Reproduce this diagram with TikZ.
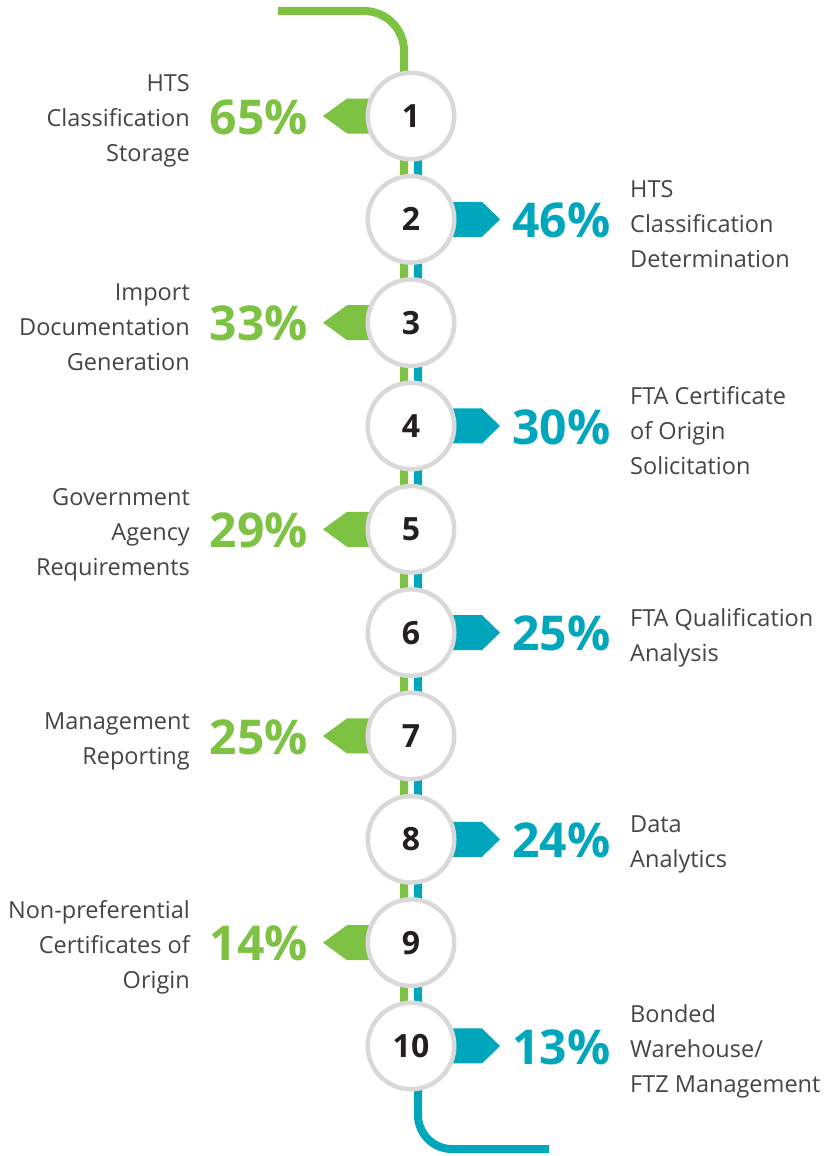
\documentclass[tikz,border=0pt]{standalone}
\usepackage{fontspec}
\setmainfont{Open Sans}
\usetikzlibrary{calc}
\definecolor{grn}{HTML}{7DC242}
\definecolor{tea}{HTML}{00A6BB}
\definecolor{rim}{HTML}{D9D9D9}
\definecolor{txt}{HTML}{454545}
\definecolor{num}{HTML}{231F20}
\begin{document}
\begin{tikzpicture}[x=1pt,y=-1pt,
  ring/.style={circle,draw=rim,line width=4.5pt,fill=white,minimum size=86.5pt,inner sep=0pt,
    font=\fontsize{32}{32}\selectfont\bfseries,text=num},
  lbll/.style={font=\fontsize{23.5}{35}\selectfont,text=txt,inner sep=0pt,align=right,anchor=east,yshift=-5pt},
  lblr/.style={font=\fontsize{23.5}{35}\selectfont,text=txt,inner sep=0pt,align=left,anchor=west,yshift=-5pt},
  pctl/.style={font=\fontsize{48}{48}\selectfont\bfseries,text=grn,inner sep=0pt,anchor=east},
  pctr/.style={font=\fontsize{48}{48}\selectfont\bfseries,text=tea,inner sep=0pt,anchor=west},
  gline/.style={draw=grn,line width=8pt,rounded corners=40pt},
  tline/.style={draw=tea,line width=8pt,rounded corners=34pt},
  tagl/.style={fill=grn},
  tagr/.style={fill=tea}]
\useasboundingbox (0,0) rectangle (828,1156);
% connectors
\coordinate (gs) at (278,11);
\coordinate (gc) at (404,11);
\coordinate (ge) at (404,1046);
\coordinate (ts) at (418,116);
\coordinate (tc) at (418,1149);
\coordinate (te) at (549,1149);
\draw[gline] (gs) -- (gc) -- (ge);
\draw[tline] (ts) -- (tc) -- (te);
% tags
\foreach \i in {1,3,5,7,9}{
  \pgfmathsetmacro\yy{116+(\i-1)*103.33}
  \fill[tagl] (380,\yy-17.5) -- (347,\yy-17.5) -- (323,\yy) -- (347,\yy+17.5) -- (380,\yy+17.5) -- cycle;
}
\foreach \i in {2,4,6,8,10}{
  \pgfmathsetmacro\yy{116+(\i-1)*103.33}
  \fill[tagr] (442,\yy-17.5) -- (482,\yy-17.5) -- (500,\yy) -- (482,\yy+17.5) -- (442,\yy+17.5) -- cycle;
}
% circles
\foreach \i in {1,...,10}{
  \pgfmathsetmacro\yy{116+(\i-1)*103.33}
  \node[ring] (c\i) at (411,\yy) {\i};
}
% percentages
\node[pctl] (p1) at (308,117) {65\%};
\node[pctr] (p2) at (512,220.33) {46\%};
\node[pctl] (p3) at (308,323.66) {33\%};
\node[pctr] (p4) at (512,427) {30\%};
\node[pctl] (p5) at (308,530.33) {29\%};
\node[pctr] (p6) at (512,633.66) {25\%};
\node[pctl] (p7) at (308,737) {25\%};
\node[pctr] (p8) at (512,840.33) {24\%};
\node[pctl] (p9) at (308,943.66) {14\%};
\node[pctr] (p10) at (512,1047) {13\%};
% labels
\node[lbll] (l1) at (190,116) {HTS\\Classification\\Storage};
\node[lblr] (l2) at (630,219.33) {HTS\\Classification\\Determination};
\node[lbll] (l3) at (190,322.66) {Import\\Documentation\\Generation};
\node[lblr] (l4) at (630,426) {FTA Certificate\\of Origin\\Solicitation};
\node[lbll] (l5) at (190,529.33) {Government\\Agency\\Requirements};
\node[lblr] (l6) at (630,632.66) {FTA Qualification\\Analysis};
\node[lbll] (l7) at (190,736) {Management\\Reporting};
\node[lblr] (l8) at (630,839.33) {Data\\Analytics};
\node[lbll] (l9) at (190,942.66) {Non-preferential\\Certificates of\\Origin};
\node[lblr] (l10) at (630,1046) {Bonded\\Warehouse/\\FTZ Management};
\end{tikzpicture}
\end{document}
